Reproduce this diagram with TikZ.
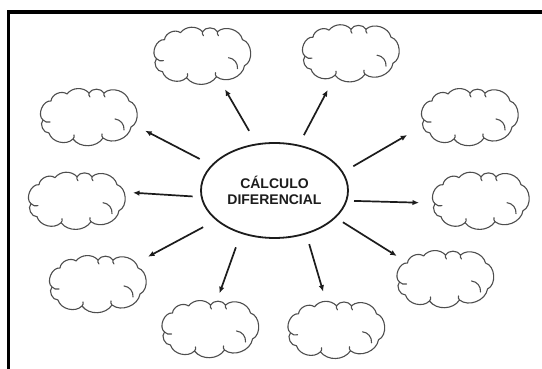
\documentclass[tikz,border=0pt]{standalone}
\usepackage{fontspec}
\setmainfont{Liberation Sans}
\usetikzlibrary{shapes.geometric,arrows.meta}

\definecolor{cloudline}{HTML}{4E4E4E}
\definecolor{ink}{HTML}{1C1C1C}

\tikzset{
  frameline/.style={line width=3.5pt, black, line cap=rect, line join=miter},
  cloudstroke/.style={draw=cloudline, line width=1.1pt, line join=round, line cap=round},
  centre/.style={draw=ink, ellipse, line width=1.8pt, minimum width=147pt,
                 minimum height=95pt, inner sep=0pt, align=center,
                 font=\bfseries\fontsize{14}{16}\selectfont, text=ink},
  spoke/.style={draw=ink, line width=1.7pt, -{Latex[length=6.5pt,width=5.5pt]}},
  % a puffy cloud outline with a few inner curls
  puffcloud/.pic={
    \draw[cloudstroke]
      (-44,-2) to[bend left=75] (-36,17) to[bend left=60] (-20,24)
      to[bend left=50] (2,25) to[bend left=60] (17,25)
      to[bend left=60] (42,17) to[bend left=70] (44,-9)
      to[bend left=60] (16,-20) to[bend left=55] (-14,-21)
      to[bend left=60] (-38,-15) to[bend left=70] (-44,-2) -- cycle;
    \draw[cloudstroke] (28,-1) to[bend left=45] (37,-12);
    \draw[cloudstroke] (-44,-2) to[bend right=30] (-37,-4);
    \draw[cloudstroke] (2,25) to[bend right=30] (3,21);
    \draw[cloudstroke] (17,25) to[bend right=30] (18,21);
    \draw[cloudstroke] (16,-20) to[bend left=30] (15,-16);
    \draw[cloudstroke] (-14,-21) to[bend right=30] (-13,-17);
  }
}

\begin{document}
\begin{tikzpicture}[x=1pt,y=1pt]
  \useasboundingbox (0,0) rectangle (542,369);
  \fill[white] (0,0) rectangle (542,369);

  % open frame along the left and top edges
  \draw[frameline] (8.7,-5) -- (8.7,357) -- (550,357);

  % central topic
  \node[centre] (e) at (274.5,178.5) {CÁLCULO\\DIFERENCIAL};

  % clouds around the topic
  \pic (c1)  at (200.5,312.3) {puffcloud};
  \pic (c2)  at (349,314.8)   {puffcloud};
  \pic (c3)  at (87,251)      {puffcloud};
  \pic (c4)  at (468,251)     {puffcloud};
  \pic (c5)  at (75,167.3)    {puffcloud};
  \pic (c6)  at (479,167.3)   {puffcloud};
  \pic (c7)  at (96,84)       {puffcloud};
  \pic (c8)  at (443.5,89)    {puffcloud};
  \pic (c9)  at (208.5,39)    {puffcloud};
  \pic (c10) at (334.5,38.2)  {puffcloud};

  % arrow tips, each just short of its cloud
  \coordinate (t1)  at (225,279.7);
  \coordinate (t2)  at (327.7,279);
  \coordinate (t3)  at (145.2,238.3);
  \coordinate (t4)  at (407.2,234);
  \coordinate (t5)  at (133,176.3);
  \coordinate (t6)  at (419,166.3);
  \coordinate (t7)  at (148,112.3);
  \coordinate (t8)  at (396.8,113);
  \coordinate (t9)  at (219.5,75.7);
  \coordinate (t10) at (323.2,77.3);

  % spokes leaving the ellipse with a small gap
  \draw[spoke, shorten <=14.7pt] (e.111.6) -- (t1);
  \draw[spoke, shorten <=10.9pt] (e.62.0)  -- (t2);
  \draw[spoke, shorten <=13.1pt] (e.158.0) -- (t3);
  \draw[spoke, shorten <=11.6pt] (e.15.9)  -- (t4);
  \draw[spoke, shorten <=8.1pt]  (e.185.3) -- (t5);
  \draw[spoke, shorten <=6.8pt]  (e.352.7) -- (t6);
  \draw[spoke, shorten <=14.5pt] (e.207.0) -- (t7);
  \draw[spoke, shorten <=8.3pt]  (e.336.2) -- (t8);
  \draw[spoke, shorten <=14.5pt] (e.232.5) -- (t9);
  \draw[spoke, shorten <=10.3pt] (e.306.0) -- (t10);
\end{tikzpicture}
\end{document}
